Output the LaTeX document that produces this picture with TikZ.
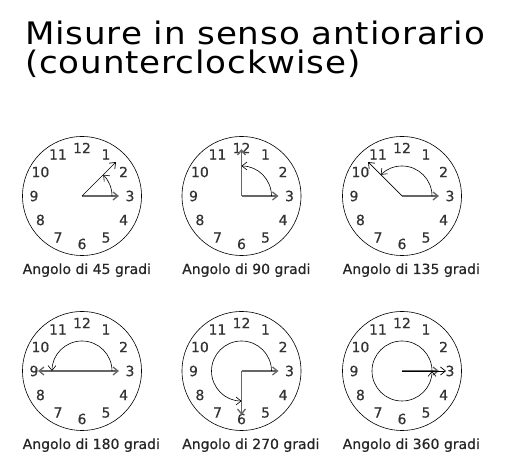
\documentclass[tikz,border=0pt]{standalone}
\usepackage{fontspec}
\setmainfont{DejaVu Sans}
\newfontfamily\titlefont[FakeStretch=1.1,LetterSpace=2.8]{DejaVu Sans}
\newfontfamily\smallfont[FakeBold=0.6]{DejaVu Sans}
\usetikzlibrary{arrows.meta}

\tikzset{
  >={Straight Barb[length=5pt,width=8pt]},
  face/.style={draw=black, line width=0.6pt},
  hour/.style={font=\smallfont\fontsize{14}{14}\selectfont, text=black!80, inner sep=0pt},
  caption/.style={font=\smallfont\fontsize{14}{14}\selectfont, text=black!85, inner sep=0pt, anchor=base west},
  title/.style={font=\titlefont\fontsize{31}{31}\selectfont, inner sep=0pt, anchor=base west},
  basehand/.style={draw=black!60, line width=1.3pt, ->},
  hand/.style={draw=black, line width=0.7pt, ->},
  sweep/.style={draw=black, line width=0.6pt, ->}
}

\begin{document}
\begin{tikzpicture}[x=1pt,y=1pt]
    \useasboundingbox (0,0) rectangle (506,476);
    % title
    \node[title] (title1) at (25,431) {Misure in senso antiorario};
    \node[title] (title2) at (25,402) {(counterclockwise)};
    % clock faces
    \foreach \c/\cx/\cy/\d in {1/82/280/45, 2/241.5/280/90, 3/402/280/135,
                              4/82/105/180, 5/241.5/105/270, 6/402/105/360} {
        \coordinate (c\c) at (\cx,\cy);
        \draw[face] (c\c) circle[radius=59.5pt];
        \foreach \h in {1,...,12}
            \node[hour] (n\c-\h) at ([shift={(90-30*\h:48)}]c\c) {\h};
        \node[caption] (cap\c) at ([xshift=-59.5pt,yshift=-78pt]c\c) {Angolo di \d\ gradi};
        % hand on the 3 and start of the sweep
        \coordinate (t\c) at ([xshift=37pt]c\c);
        \coordinate (a\c) at ([xshift=30pt]c\c);
        \draw[basehand] (c\c) -- (t\c);
    }
    % second hands
    \coordinate (h1) at ([shift={(45:48)}]c1);
    \coordinate (h2) at ([shift={(90:47)}]c2);
    \coordinate (h3) at ([shift={(135:48)}]c3);
    \coordinate (h4) at ([shift={(180:44)}]c4);
    \coordinate (h5) at ([shift={(270:44)}]c5);
    \coordinate (h6) at ([shift={(0:44)}]c6);
    \draw[hand] (c1) -- (h1);
    \draw[basehand] (c2) -- (h2);
    \draw[hand] (c3) -- (h3);
    \draw[basehand] (c4) -- (h4);
    \draw[basehand] (c5) -- (h5);
    \draw[hand] (c6) -- (h6);
    % sweeps
    \draw[sweep] (a1) arc[start angle=0, end angle=45, radius=30pt];
    \draw[sweep] (a2) arc[start angle=0, end angle=90, radius=30pt];
    \draw[sweep] (a3) arc[start angle=0, end angle=135, radius=30pt];
    \draw[sweep] (a4) arc[start angle=0, end angle=180, radius=30pt];
    \draw[sweep] (a5) arc[start angle=0, end angle=270, radius=30pt];
    \draw[sweep] (a6) arc[start angle=0, end angle=360, radius=30pt];
\end{tikzpicture}
\end{document}
